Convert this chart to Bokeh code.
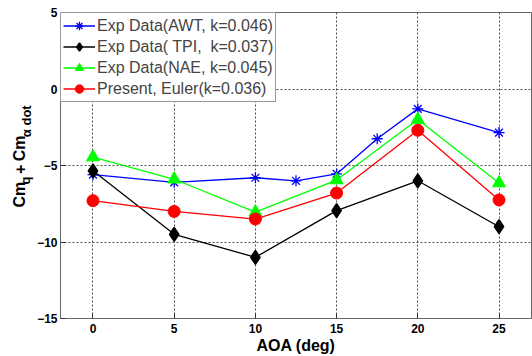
import math
from bokeh.plotting import figure
from bokeh.models import Legend, LegendItem, FixedTicker, Range1d
from bokeh.layouts import row
from bokeh.core.properties import value
from bokeh.embed import file_html
from bokeh.resources import INLINE

# ---- data ----
aoa_awt = [0, 5, 10, 12.5, 15, 17.5, 20, 25]
cm_awt = [-5.6, -6.1, -5.8, -6.0, -5.55, -3.25, -1.3, -2.85]

aoa_tpi = [0, 5, 10, 15, 20, 25]
cm_tpi = [-5.35, -9.5, -11.0, -7.95, -6.0, -9.0]

aoa_nae = [0, 5, 10, 15, 20, 25]
cm_nae = [-4.45, -5.9, -8.05, -5.95, -2.0, -6.15]

aoa_euler = [0, 5, 10, 15, 20, 25]
cm_euler = [-7.3, -8.0, -8.5, -6.8, -2.7, -7.25]

x_ticks = [0, 5, 10, 15, 20, 25]
y_ticks = [-15, -10, -5, 0, 5]

labels = ["Exp Data(AWT, k=0.046)", "Exp Data( TPI,  k=0.037)",
          "Exp Data(NAE, k=0.045)", "Present, Euler(k=0.036)"]

ylabel_parts = ["Cm", "q", "+", "Cm", "\u03b1 dot"]

FONT = "Liberation Sans"
LEFT_W = 34

p = figure(width=532 - LEFT_W, height=356, output_backend="svg", toolbar_location=None,
           x_range=Range1d(-2, 27), y_range=Range1d(-15, 5),
           min_border_left=5, min_border_right=1, min_border_top=12, min_border_bottom=0)

p.background_fill_color = "white"
p.border_fill_color = "white"
p.outline_line_color = "#666666"
p.outline_line_width = 1

for ax in (p.xaxis[0], p.yaxis[0]):
    ax.major_label_text_font = FONT
    ax.major_label_text_font_style = "bold"
    ax.major_label_text_font_size = "12px"
    ax.major_label_text_color = "black"
    ax.axis_line_color = "#666666"
    ax.major_tick_line_color = "#333333"
    ax.major_tick_in = 5
    ax.major_tick_out = 0
    ax.minor_tick_line_color = None

p.xaxis.ticker = FixedTicker(ticks=x_ticks)
p.yaxis.ticker = FixedTicker(ticks=y_ticks)
p.xaxis.axis_label = "AOA (deg)"
p.xaxis.axis_label_text_font = FONT
p.xaxis.axis_label_text_font_style = "bold"
p.xaxis.axis_label_text_font_size = "16px"
p.xaxis.axis_label_text_color = "black"
p.xaxis.major_label_standoff = 5
p.xaxis.axis_label_standoff = 1
p.yaxis.major_label_standoff = 3

for g in (p.xgrid[0], p.ygrid[0]):
    g.grid_line_color = "#222222"
    g.grid_line_dash = "2 2"
    g.grid_line_width = 1
    g.grid_line_alpha = 0.8

p.xgrid.ticker = FixedTicker(ticks=x_ticks)
p.ygrid.ticker = FixedTicker(ticks=y_ticks)

lw = 1.3
l1 = p.line(aoa_awt, cm_awt, color="#0000ff", line_width=lw)
m1 = p.scatter(aoa_awt, cm_awt, marker="asterisk", size=11, line_color="#0000ff", line_width=1.3)
l2 = p.line(aoa_tpi, cm_tpi, color="black", line_width=lw)
m2 = p.scatter(aoa_tpi, cm_tpi, marker="diamond", size=14, fill_color="black", line_color="black",
               line_width=1.5)
l3 = p.line(aoa_nae, cm_nae, color="#00ff00", line_width=lw)
m3 = p.scatter(aoa_nae, cm_nae, marker="triangle", size=13, fill_color="#00ff00", line_color="#00ff00")
l4 = p.line(aoa_euler, cm_euler, color="#ff0000", line_width=lw)
m4 = p.scatter(aoa_euler, cm_euler, marker="circle", size=12, fill_color="#ff0000", line_color="#ff0000")

legend = Legend(items=[LegendItem(label=labels[0], renderers=[l1, m1]),
                       LegendItem(label=labels[1], renderers=[l2, m2]),
                       LegendItem(label=labels[2], renderers=[l3, m3]),
                       LegendItem(label=labels[3], renderers=[l4, m4])],
                location="top_left", margin=0, padding=2, spacing=0,
                label_text_font=FONT, label_text_font_size="16px",
                label_height=21, glyph_height=21, glyph_width=32, label_standoff=2,
                border_line_color="#333333", border_line_width=1,
                background_fill_color="white", background_fill_alpha=1)
p.add_layout(legend, "center")

# ---- y-axis label panel (rotated text with subscripts) ----
q = figure(width=LEFT_W, height=356, output_backend="svg", toolbar_location=None,
           x_range=Range1d(0, LEFT_W), y_range=Range1d(356, 0),
           min_border=0, x_axis_type=None, y_axis_type=None)
q.outline_line_color = None
q.grid.visible = False
q.background_fill_color = "white"
q.border_fill_color = "white"

main_x, sub_x = 19, 25
q.text(x=[main_x, main_x, main_x], y=[227, 188, 173],
       text=[ylabel_parts[0], ylabel_parts[2], ylabel_parts[3]],
       angle=math.pi / 2, text_font=value(FONT), text_font_style="bold",
       text_font_size="16px", text_color="black", text_baseline="alphabetic", text_align="left")
q.text(x=[sub_x, sub_x + 1], y=[200, 145],
       text=[ylabel_parts[1], ylabel_parts[4]],
       angle=math.pi / 2, text_font=value(FONT), text_font_style="bold",
       text_font_size="13px", text_color="black", text_baseline="alphabetic", text_align="left")

layout = row(q, p, spacing=0)
open("out.html", "w").write(file_html(layout, INLINE))
